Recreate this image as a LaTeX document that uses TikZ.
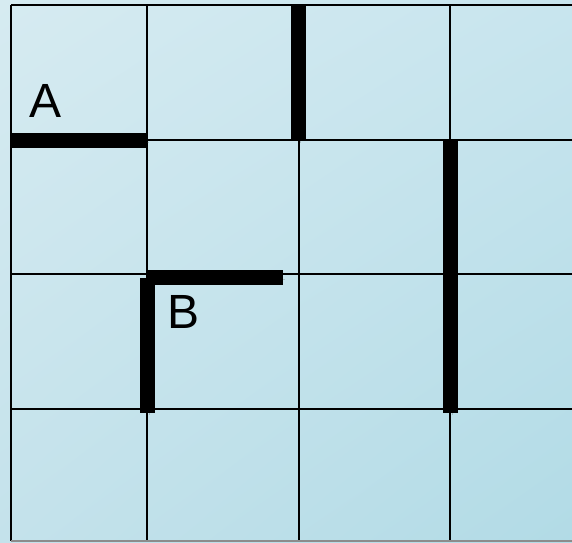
\documentclass[tikz,border=0pt]{standalone}
\usepackage{fontspec}
\setsansfont{Liberation Sans}
\usetikzlibrary{shadings}
\definecolor{MazeTL}{HTML}{D6EBF1}
\definecolor{MazeTR}{HTML}{C8E5EE}
\definecolor{MazeBL}{HTML}{C4E2EB}
\definecolor{MazeBR}{HTML}{B2DBE6}

\begin{document}
\begin{tikzpicture}[
    x=1pt, y=-1pt,
    gridline/.style={draw=black, line width=1.6pt},
    wall/.style={draw=black, line width=15pt, line cap=butt,
      preaction={draw=black!70, opacity=.25,
        transform canvas={shift={(2pt,-2pt)}}}},
    cellmark/.style={font=\sffamily\fontsize{48}{56}\selectfont,
      inner sep=0pt, anchor=base west}
  ]
    \useasboundingbox (0,0) rectangle (572,542);
    % background
    \shade[upper left=MazeTL, upper right=MazeTR,
      lower left=MazeBL, lower right=MazeBR] (0,0) rectangle (572,542);
    % grid
    \foreach \x in {11,147,299,450}
      \draw[gridline] (\x,5) -- (\x,541);
    \foreach \y in {5,140,274,409}
      \draw[gridline] (11,\y) -- (572,\y);
    \draw[draw=black!45, line width=1.6pt] (11,541) -- (572,541);
    % walls
    \draw[wall] (11,140.5) -- (147,140.5);
    \draw[wall] (298.5,5) -- (298.5,141);
    \draw[wall] (450,141) -- (450,413);
    \draw[wall] (147,277.5) -- (283,277.5);
    \draw[wall] (147.5,278) -- (147.5,413);
    % labels
    \node[cellmark] (markA) at (29,117) {A};
    \node[cellmark] (markB) at (167,328) {B};
  \end{tikzpicture}
\end{document}
